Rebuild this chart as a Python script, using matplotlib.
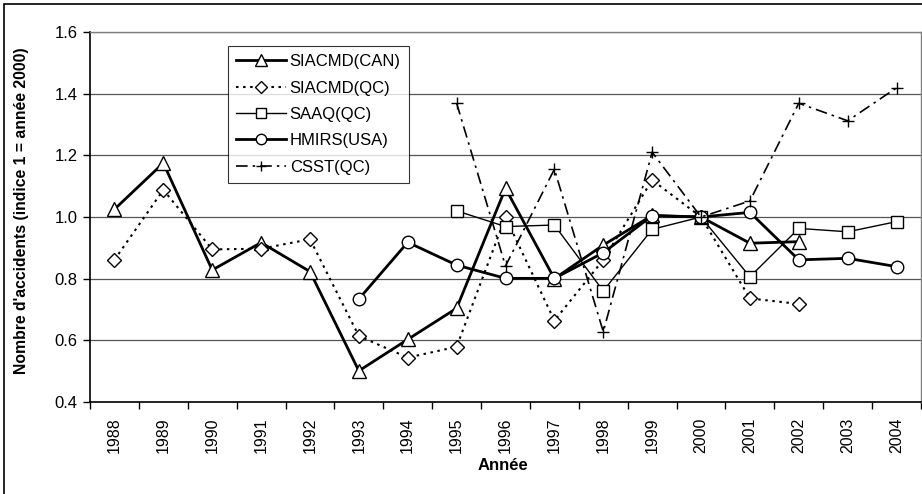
import matplotlib
matplotlib.use("Agg")
import matplotlib.pyplot as plt
import numpy as np
from matplotlib.patches import Rectangle

plt.rcParams['font.family'] = ['Liberation Sans', 'DejaVu Sans']

years = [str(y) for y in range(1988, 2005)]
nan = np.nan

# values (indice 1 = année 2000)
siacmd_can = [1.025, 1.175, 0.828, 0.917, 0.823, 0.501, 0.603, 0.704, 1.093, 0.800,
              0.909, 1.005, 1.0, 0.915, 0.920, nan, nan]
siacmd_qc = [0.861, 1.088, 0.895, 0.897, 0.928, 0.614, 0.544, 0.579, 1.0, 0.664,
             0.861, 1.12, 1.0, 0.736, 0.718, nan, nan]
saaq_qc = [nan, nan, nan, nan, nan, nan, nan, 1.02, 0.969, 0.974,
           0.76, 0.96, 1.0, 0.806, 0.963, 0.952, 0.985]
hmirs_usa = [nan, nan, nan, nan, nan, 0.734, 0.918, 0.844, 0.801, 0.801,
             0.884, 1.004, 1.0, 1.015, 0.861, 0.866, 0.839]
csst_qc = [nan, nan, nan, nan, nan, nan, nan, 1.369, 0.841, 1.155,
           0.628, 1.21, 1.0, 1.052, 1.369, 1.312, 1.419]

fig = plt.figure(figsize=(9.22, 4.94), dpi=100)
ax = fig.add_axes([90/922, 1-402/494, 831/922, 370/494])

x = np.arange(len(years))

def draw(vals, label, **kw):
    v = np.array(vals, dtype=float)
    m = ~np.isnan(v)
    ax.plot(x[m], v[m], label=label, color='black', markerfacecolor='white',
            markeredgecolor='black', **kw)

draw(siacmd_can, 'SIACMD(CAN)', lw=2.0, marker='^', ms=10, mew=1.0)
draw(siacmd_qc, 'SIACMD(QC)', lw=1.5, ls=(0, (1.2, 2.2)), marker='D', ms=7, mew=1.0)
draw(saaq_qc, 'SAAQ(QC)', lw=1.0, marker='s', ms=9, mew=1.0)
draw(hmirs_usa, 'HMIRS(USA)', lw=2.0, marker='o', ms=9, mew=1.0)
draw(csst_qc, 'CSST(QC)', lw=1.2, ls=(0, (7, 3, 1.5, 3)), marker='+', ms=8, mew=1.0)

ax.set_xlim(-0.5, len(years) - 0.5)
ax.set_ylim(0.4, 1.6)
ax.set_yticks(np.arange(0.4, 1.61, 0.2))
ax.set_yticklabels([f"{v:.1f}" for v in np.arange(0.4, 1.61, 0.2)], fontsize=12)
ax.yaxis.grid(True, color='#555555', lw=0.9)
ax.set_axisbelow(True)

ax.set_xticks(x)
ax.set_xticklabels(years, rotation=90, fontsize=11.5)
ax.tick_params(axis='x', which='major', length=0, pad=11)
ax.set_xticks(np.arange(-0.5, len(years)), minor=True)
ax.tick_params(axis='x', which='minor', length=5, direction='out', width=1)
ax.tick_params(axis='y', length=5, direction='out', width=1, pad=4)

for s in ['top', 'right']:
    ax.spines[s].set_color('#808080')
    ax.spines[s].set_linewidth(1.0)
for s in ['left', 'bottom']:
    ax.spines[s].set_color('black')
    ax.spines[s].set_linewidth(1.2)

ax.set_xlabel('Année', fontsize=12, fontweight='bold')
ax.xaxis.set_label_coords((503-90)/831, -(458-402)/370)
ax.set_ylabel("Nombre d'accidents (indice 1 = année 2000)", fontsize=11.3, fontweight='bold')
ax.yaxis.set_label_coords(-(90-29)/831, (402-211)/370)

leg = ax.legend(loc='upper left', bbox_to_anchor=((228-90)/831, (402-46)/370),
                fontsize=12, frameon=True, fancybox=False, handlelength=3.0,
                labelspacing=0.68, borderpad=0.5, handletextpad=0.2,
                borderaxespad=0)
leg.get_frame().set_edgecolor('black')
leg.get_frame().set_linewidth(0.8)
for h, ms in zip(leg.legend_handles, [8, 6, 7.5, 7.5, 7]):
    h.set_markersize(ms)

fig.patches.append(Rectangle((4/922, -0.1), 1.2, 1 - 4/494 + 0.1, transform=fig.transFigure,
                             fill=False, edgecolor='black', lw=1.2))

fig.savefig('out.png', dpi=100)
